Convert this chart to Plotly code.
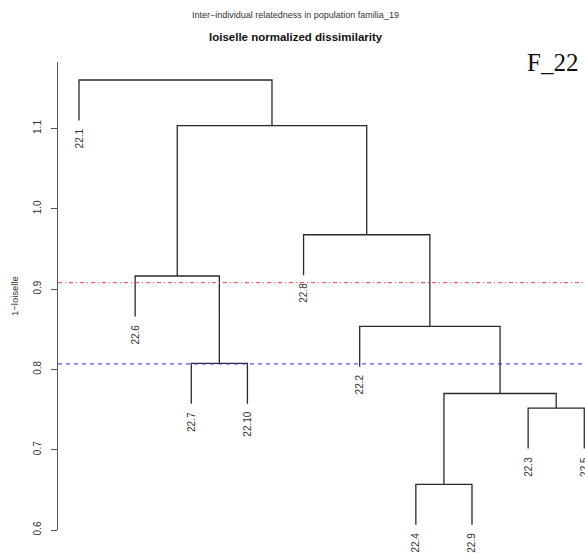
import plotly.graph_objects as go

# ---- data ----
leaf_labels = ["22.1", "22.6", "22.7", "22.10", "22.8", "22.2", "22.4", "22.9", "22.3", "22.5"]
# merges: negative = leaf (1-based position in leaf order), positive = earlier merge (1-based)
merge_left = [-7, -9, 1, -3, -6, -2, -5, 6, -1]
merge_right = [-8, -10, 2, -4, 3, 4, 5, 7, 8]
merge_height = [0.6569, 0.7517, 0.7700, 0.8076, 0.8537, 0.9163, 0.9677, 1.1035, 1.1604]
cut_red = 0.908
cut_blue = 0.807
y_ticks = [0.6, 0.7, 0.8, 0.9, 1.0, 1.1]
y_tick_text = ["0.6", "0.7", "0.8", "0.9", "1.0", "1.1"]

hang = 0.1 * (max(merge_height) - min(merge_height))

# ---- compute dendrogram segments ----
node_x = {}
xs, ys = [], []
leaf_bottom = {}


def child_pos(c, parent_h):
    if c < 0:
        i = -c
        bottom = parent_h - hang
        leaf_bottom[i] = bottom
        return float(i), bottom
    return node_x[c], merge_height[c - 1]


for k, (a, b, h) in enumerate(zip(merge_left, merge_right, merge_height), start=1):
    xa, ya = child_pos(a, h)
    xb, yb = child_pos(b, h)
    xs += [xa, xa, xb, xb, None]
    ys += [ya, h, h, yb, None]
    node_x[k] = (xa + xb) / 2

fig = go.Figure()
fig.add_trace(go.Scatter(x=xs, y=ys, mode="lines",
                         line=dict(color="#2a2a2a", width=1.3),
                         hoverinfo="skip", showlegend=False))

x_lo, x_hi = 0.626, 10.013
fig.add_trace(go.Scatter(x=[x_lo, x_hi], y=[cut_red, cut_red], mode="lines",
                         line=dict(color="rgba(255,40,40,0.75)", width=1.2, dash="4px,3px,1px,3px"),
                         hoverinfo="skip", showlegend=False))
fig.add_trace(go.Scatter(x=[x_lo, x_hi], y=[cut_blue, cut_blue], mode="lines",
                         line=dict(color="rgba(40,40,255,0.8)", width=1.2, dash="4px,4px"),
                         hoverinfo="skip", showlegend=False))

font_family = "Arial, Liberation Sans, sans-serif"
annotations = []
for i, lab in enumerate(leaf_labels, start=1):
    annotations.append(dict(x=i, y=leaf_bottom[i], xref="x", yref="y", text=lab,
                            showarrow=False, textangle=-90, xanchor="center", yanchor="top",
                            yshift=-6, font=dict(family=font_family, size=10, color="#333")))

annotations += [
    dict(x=0.4516, y=1.1004, xref="paper", yref="paper",
         text="Inter\u2212individual relatedness in population familia_19",
         showarrow=False, xanchor="center", yanchor="middle",
         font=dict(family=font_family, size=9, color="#333")),
    dict(x=0.4516, y=1.0534, xref="paper", yref="paper",
         text="<b>loiselle normalized dissimilarity</b>",
         showarrow=False, xanchor="center", yanchor="middle",
         font=dict(family=font_family, size=11.5, color="#111")),
    dict(x=0.9374, y=1.0, xref="paper", yref="paper", text="F_22",
         showarrow=False, xanchor="center", yanchor="middle",
         font=dict(family="Liberation Serif, Times New Roman, serif", size=25, color="#111")),
    dict(x=-0.0835, y=0.5, xref="paper", yref="paper", text="1\u2212loiselle",
         showarrow=False, textangle=-90, xanchor="center", yanchor="middle",
         font=dict(family=font_family, size=9.5, color="#333")),
]

fig.update_layout(
    width=585, height=553,
    margin=dict(l=58, r=0, t=62, b=23),
    paper_bgcolor="white", plot_bgcolor="white",
    annotations=annotations,
    xaxis=dict(range=[x_lo, x_hi], visible=False, showgrid=False, zeroline=False),
    yaxis=dict(range=[0.6, 0.6 + 468 / 803], showgrid=False, zeroline=False,
               showline=True, linecolor="#555", linewidth=1.2,
               ticks="outside", ticklen=6, tickwidth=1.2, tickcolor="#555",
               tickvals=y_ticks, ticktext=y_tick_text, tickangle=-90,
               ticklabelstandoff=6,
               tickfont=dict(family=font_family, size=10, color="#333")),
)

fig.write_html("out.html")
